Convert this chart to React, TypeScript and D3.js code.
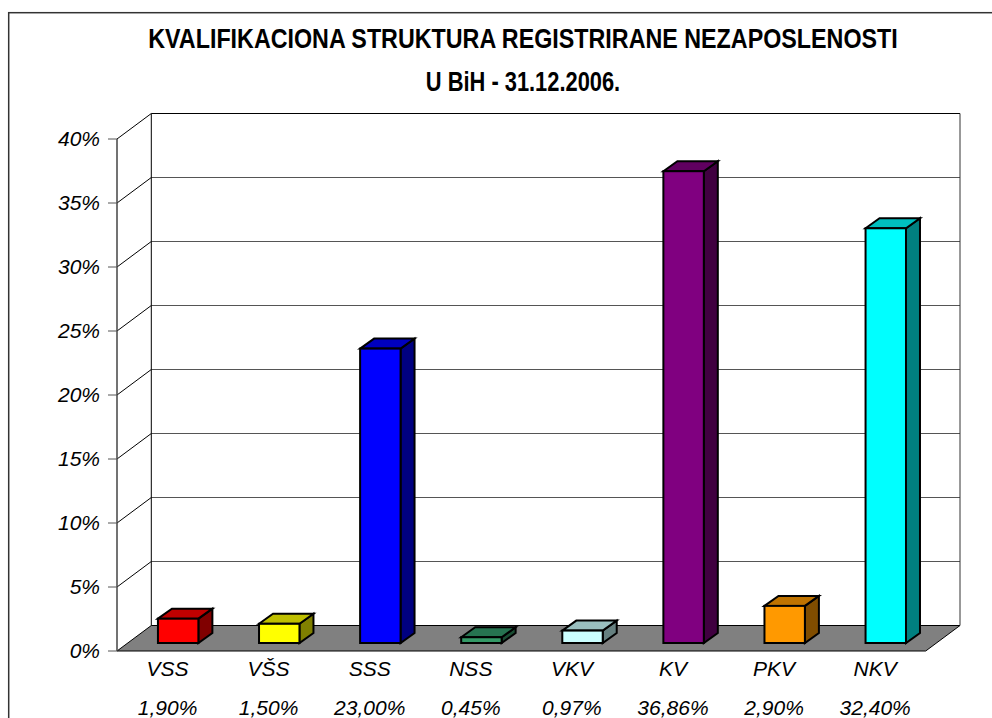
import React from "react";
import * as d3 from "d3";

const categories = ["VSS", "VŠS", "SSS", "NSS", "VKV", "KV", "PKV", "NKV"];
const values = [1.9, 1.5, 23.0, 0.45, 0.97, 36.86, 2.9, 32.4];
const valueLabels = ["1,90%", "1,50%", "23,00%", "0,45%", "0,97%", "36,86%", "2,90%", "32,40%"];
const frontColors = ["#ff0000", "#ffff00", "#0000ff", "#339966", "#ccffff", "#800080", "#ff9900", "#00ffff"];
const topColors = ["#bf0000", "#bfbf00", "#0000bf", "#267350", "#99bfbf", "#600060", "#bf7300", "#00bfbf"];
const sideColors = ["#800000", "#808000", "#000080", "#1a4d33", "#668080", "#400040", "#804d00", "#008080"];
const yTicks = [0, 5, 10, 15, 20, 25, 30, 35, 40];
const titleLines = ["KVALIFIKACIONA STRUKTURA REGISTRIRANE NEZAPOSLENOSTI", "U BiH - 31.12.2006."];
const titleScales = [0.863, 0.81];

const font = "'Liberation Sans', Arial, sans-serif";
const wallDx = 34.3, wallDy = -25.5;
const barDx = 14, barDy = -10;
const floorInset = 8;

export default function App() {
  const x = d3.scaleBand<string>().domain(categories).range([117, 925.7]);
  const y = d3.scaleLinear().domain([0, 40]).range([651, 139]);
  const barH = (v: number) => y(0) - y(v);
  const base = y(0) - floorInset;
  const left = x.range()[0], right = x.range()[1];
  const pts = (a: number[][]) => a.map((p) => p.join(",")).join(" ");
  return (
    <svg width={992} height={718} style={{ position: "absolute", left: 0, top: 0, background: "#fff" }}>
      <rect x={8.7} y={12.7} width={1000} height={730} fill="#fff" stroke="#333" strokeWidth={1.5} />
      {titleLines.map((t, i) => (
        <text key={t} transform={`translate(523,${48 + i * 43}) scale(${titleScales[i]},1)`} textAnchor="middle" fontFamily={font} fontWeight="bold" fontSize={27} fill="#000">
          {t}
        </text>
      ))}
      {/* floor */}
      <polygon points={pts([[left, y(0)], [left + wallDx, y(0) + wallDy], [right + wallDx, y(0) + wallDy], [right, y(0)]])} fill="#808080" stroke="#000" strokeWidth={1} />
      {/* gridlines */}
      {yTicks.slice(1).map((t) => (
        <g key={t}>
          <line x1={left + wallDx} x2={right + wallDx} y1={y(t) + wallDy} y2={y(t) + wallDy} stroke={t === 40 ? "#000" : "#555"} strokeWidth={1} />
          <line x1={left} x2={left + wallDx} y1={y(t)} y2={y(t) + wallDy} stroke="#000" strokeWidth={1} />
        </g>
      ))}
      <line x1={left + wallDx} x2={left + wallDx} y1={y(40) + wallDy} y2={y(0) + wallDy} stroke="#000" />
      <line x1={right + wallDx} x2={right + wallDx} y1={y(40) + wallDy} y2={y(0) + wallDy} stroke="#333" />
      {/* axis */}
      <line x1={left} x2={left} y1={y(40)} y2={y(0)} stroke="#444" strokeWidth={1.5} />
      {yTicks.map((t) => (
        <g key={t}>
          <line x1={left - 9} x2={left} y1={y(t)} y2={y(t)} stroke="#555" strokeWidth={1} />
          <text x={100} y={y(t) + 6.5} textAnchor="end" fontFamily={font} fontStyle="italic" fontSize={21} fill="#000">{t}%</text>
        </g>
      ))}
      {/* bars */}
      {categories.map((c, i) => {
        const bx = x(c)! + x.bandwidth() * 0.405;
        const w = x.bandwidth() * 0.4;
        const top = base - barH(values[i]);
        return (
          <g key={c} stroke="#000" strokeWidth={2} strokeLinejoin="miter">
            <polygon points={pts([[bx + w, top], [bx + w + barDx, top + barDy], [bx + w + barDx, base + barDy], [bx + w, base]])} fill={sideColors[i]} />
            <polygon points={pts([[bx, top], [bx + barDx, top + barDy], [bx + w + barDx, top + barDy], [bx + w, top]])} fill={topColors[i]} />
            <rect x={bx} y={top} width={w} height={barH(values[i])} fill={frontColors[i]} />
          </g>
        );
      })}
      {/* category labels */}
      {categories.map((c, i) => (
        <g key={c} fontFamily={font} fontStyle="italic" fontSize={21} fill="#000" textAnchor="middle">
          <text x={x(c)! + x.bandwidth() / 2} y={676}>{c}</text>
          <text x={x(c)! + x.bandwidth() / 2} y={715}>{valueLabels[i]}</text>
        </g>
      ))}
    </svg>
  );
}
